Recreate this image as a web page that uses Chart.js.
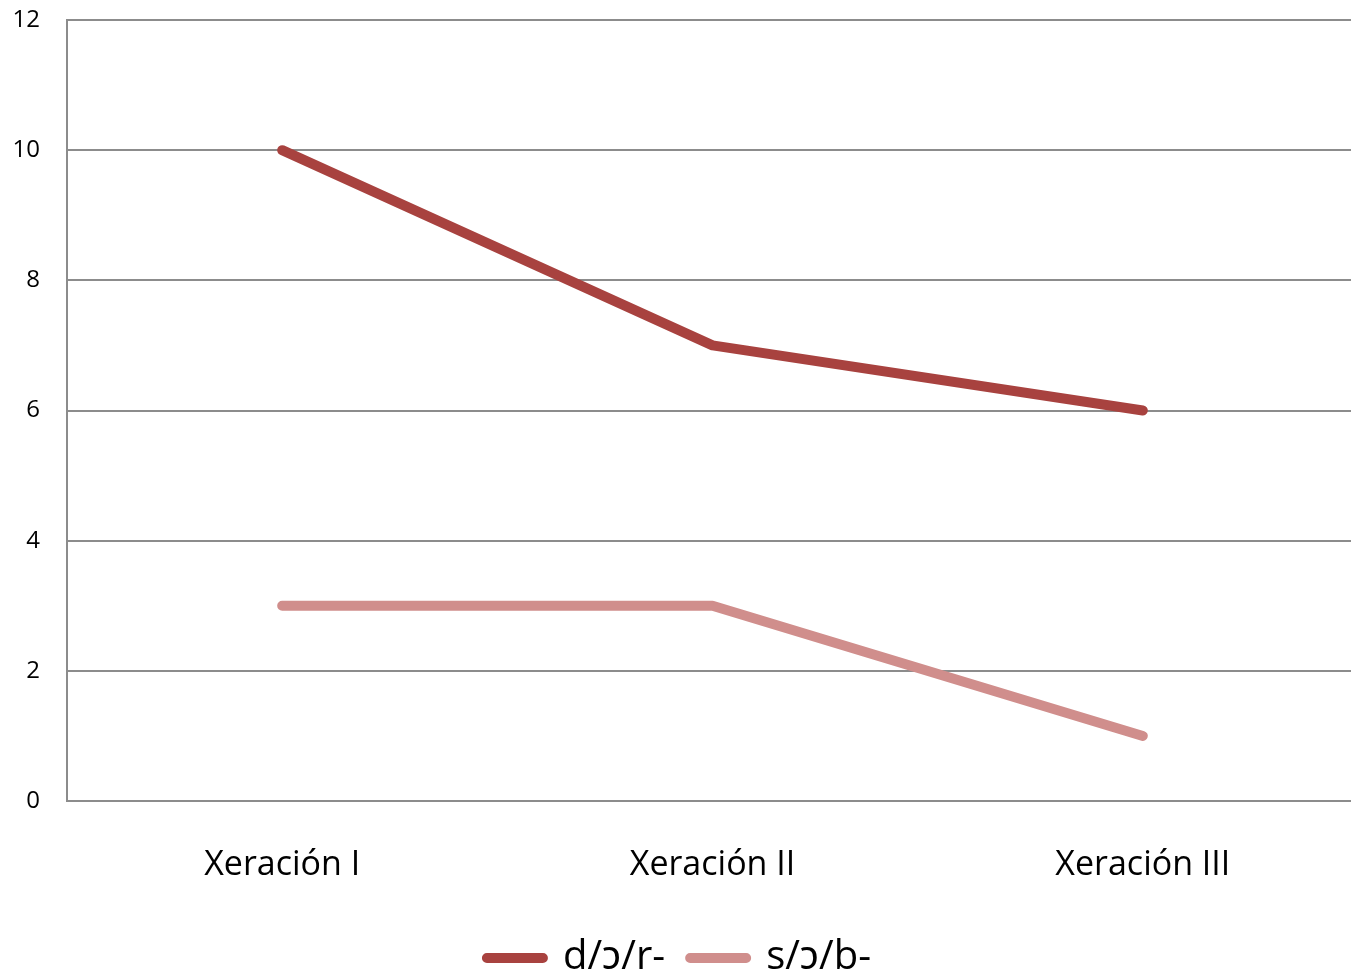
<!DOCTYPE html>
<html>
<head>
<meta charset="utf-8">
<script src="https://cdn.jsdelivr.net/npm/chart.js@4.4.1/dist/chart.umd.min.js"></script>
<style>
  body { margin: 0; background: #fff; overflow: hidden; }
  #wrap { width: 1358px; height: 976px; }
</style>
</head>
<body>
<div id="wrap"><canvas id="grafico"></canvas></div>
<script>
// Dados do gráfico
const xeracions = ['Xeración I', 'Xeración II', 'Xeración III'];
const serieDor = [10, 7, 6];
const serieSob = [3, 3, 1];
const ticksY = [0, 2, 4, 6, 8, 10, 12];

const corEscura = '#A8423F';
const corClara = '#D08E8C';
const corGrade = '#8C8C8C';
const fonte = '"Open Sans", "Noto Sans", sans-serif';

const ctx = document.getElementById('grafico').getContext('2d');

new Chart(ctx, {
    type: 'line',
    data: {
        labels: xeracions,
        datasets: [
            {
                label: 'd/ɔ/r-',
                data: serieDor,
                borderColor: corEscura,
                backgroundColor: corEscura,
                borderWidth: 10,
                borderCapStyle: 'round',
                borderJoinStyle: 'round',
                pointRadius: 0,
                tension: 0
            },
            {
                label: 's/ɔ/b-',
                data: serieSob,
                borderColor: corClara,
                backgroundColor: corClara,
                borderWidth: 10,
                borderCapStyle: 'round',
                borderJoinStyle: 'round',
                pointRadius: 0,
                tension: 0
            }
        ]
    },
    options: {
        responsive: true,
        maintainAspectRatio: false,
        animation: false,
        layout: {
            padding: { top: 0, right: 0, bottom: -12, left: 0 }
        },
        scales: {
            x: {
                offset: true,
                grid: { display: false, drawTicks: false },
                border: { display: true, color: corGrade, width: 2 },
                ticks: {
                    color: '#000',
                    padding: 44,
                    font: { family: fonte, size: 34 }
                },
                afterFit: function(scale) { scale.height = 112; }
            },
            y: {
                min: 0,
                max: 12,
                afterBuildTicks: function(scale) {
                    scale.ticks = ticksY.map(v => ({ value: v }));
                },
                grid: { color: corGrade, lineWidth: 2, drawTicks: false },
                border: { display: true, color: corGrade, width: 2 },
                ticks: {
                    color: '#000',
                    padding: 27,
                    font: { family: fonte, size: 24 }
                },
                afterFit: function(scale) {
                    scale.width = 67;
                    scale.paddingTop = 20;
                    scale.paddingBottom = 0;
                }
            }
        },
        plugins: {
            legend: {
                position: 'bottom',
                labels: {
                    color: '#000',
                    font: { family: fonte, size: 40 },
                    boxWidth: 56,
                    boxHeight: 0,
                    padding: 25
                }
            },
            tooltip: { enabled: false }
        }
    }
});
</script>
</body>
</html>
